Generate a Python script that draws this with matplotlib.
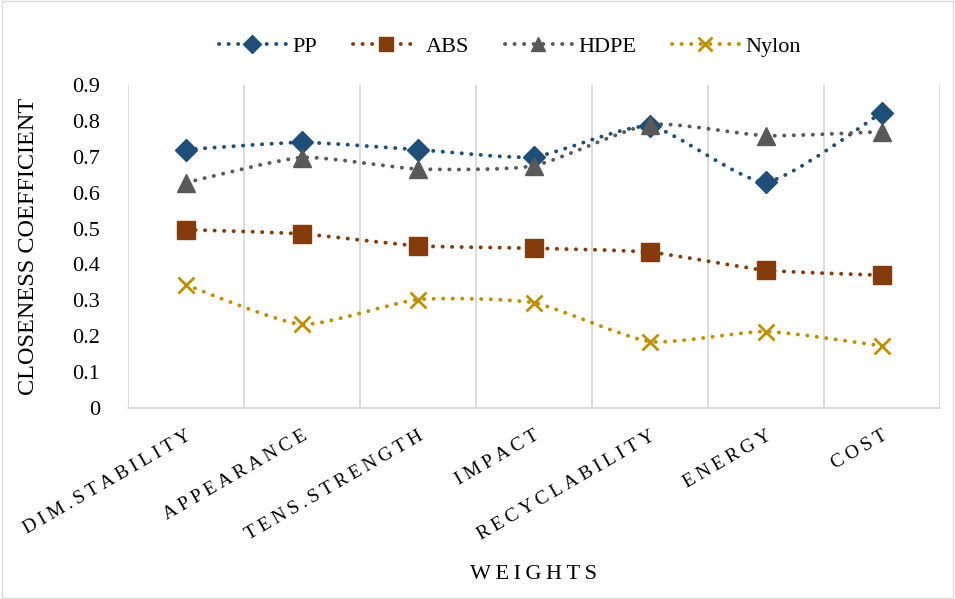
import matplotlib
matplotlib.use("Agg")
import matplotlib.pyplot as plt
from matplotlib.path import Path
from matplotlib.patches import PathPatch, Rectangle
from matplotlib.lines import Line2D

plt.rcParams['font.family'] = ['Liberation Serif', 'DejaVu Serif']

# data
categories = ['DIM.STABILITY', 'APPEARANCE', 'TENS.STRENGTH', 'IMPACT',
              'RECYCLABILITY', 'ENERGY', 'COST']
pp = [0.72, 0.74, 0.72, 0.70, 0.785, 0.63, 0.823]
abs_ = [0.497, 0.485, 0.452, 0.445, 0.434, 0.384, 0.37]
hdpe = [0.628, 0.698, 0.666, 0.675, 0.79, 0.759, 0.77]
nylon = [0.343, 0.233, 0.302, 0.293, 0.185, 0.213, 0.173]
series_names = ['PP', 'ABS', 'HDPE', 'Nylon']
colors = ['#1F4E79', '#843C0C', '#595959', '#BF9000']
markers = ['D', 's', '^', 'x']
msizes = [11, 12.5, 12.5, 11.5]
yticks = [0, 0.1, 0.2, 0.3, 0.4, 0.5, 0.6, 0.7, 0.8, 0.9]


def spaced(s, sep='\u2009'):
    # imitate Excel character spacing
    return sep.join(s)


def smooth_path(xs, ys, k=1 / 10):
    # Excel-like smoothed line: bezier segments through the points
    pts = list(zip(xs, ys))
    verts = [pts[0]]
    codes = [Path.MOVETO]
    n = len(pts)
    for i in range(n - 1):
        p0 = pts[i - 1] if i > 0 else pts[i]
        p1 = pts[i]
        p2 = pts[i + 1]
        p3 = pts[i + 2] if i + 2 < n else pts[i + 1]
        c1 = (p1[0] + (p2[0] - p0[0]) * k, p1[1] + (p2[1] - p0[1]) * k)
        c2 = (p2[0] - (p3[0] - p1[0]) * k, p2[1] - (p3[1] - p1[1]) * k)
        verts += [c1, c2, p2]
        codes += [Path.CURVE4] * 3
    return Path(verts, codes)


fig = plt.figure(figsize=(9.55, 5.99), dpi=100)
ax = fig.add_axes([0.134, 0.319, 0.850, 0.539])

x = list(range(len(categories)))
dots = (0, (0.05, 2.4))
handles = []
for vals, name, c, m, ms in zip([pp, abs_, hdpe, nylon], series_names, colors, markers, msizes):
    patch = PathPatch(smooth_path(x, vals), facecolor='none', edgecolor=c,
                      lw=2.8, linestyle=dots, capstyle='round', zorder=3)
    ax.add_patch(patch)
    ax.plot(x, vals, linestyle='none', marker=m, ms=ms, color=c,
            mew=2 if m == 'x' else 1, zorder=4)
    handles.append(Line2D([0], [0], color=c, lw=2.8, linestyle=dots,
                          dash_capstyle='round', marker=m, ms=ms * 0.85,
                          mew=2 if m == 'x' else 1, label=name))

ax.set_xlim(-0.5, len(categories) - 0.5)
ax.set_ylim(0, 0.9)
ax.set_yticks(yticks)
ax.set_yticklabels([f'{v:g}' for v in yticks], fontsize=16)

# vertical gridlines at category boundaries
for b in range(len(categories) + 1):
    ax.axvline(b - 0.5, color='#D9D9D9', lw=1.3, zorder=1)

ax.set_xticks(x)
ax.set_xticklabels([spaced(c) for c in categories], rotation=30, ha='right',
                   rotation_mode='anchor', fontsize=14)
ax.tick_params(axis='both', length=0)
ax.tick_params(axis='y', pad=20)
ax.tick_params(axis='x', pad=14)

for s in ['top', 'right', 'left']:
    ax.spines[s].set_visible(False)
ax.spines['bottom'].set_color('#D9D9D9')
ax.spines['bottom'].set_linewidth(1.3)

ax.set_ylabel('CLOSENESS COEFFICIENT', fontsize=17.5, labelpad=24)
ax.set_xlabel(spaced('WEIGHTS'), fontsize=16, labelpad=16)

fig.legend(handles=handles, loc='center', bbox_to_anchor=(0.534, 0.922), ncol=4,
           frameon=False, fontsize=16, handlelength=3.0, columnspacing=1.6,
           handletextpad=0.3)

fig.patches.append(Rectangle((0.002, 0.002), 0.996, 0.996, transform=fig.transFigure,
                             fill=False, edgecolor='#D9D9D9', lw=1))

fig.savefig('out.png', dpi=100)
